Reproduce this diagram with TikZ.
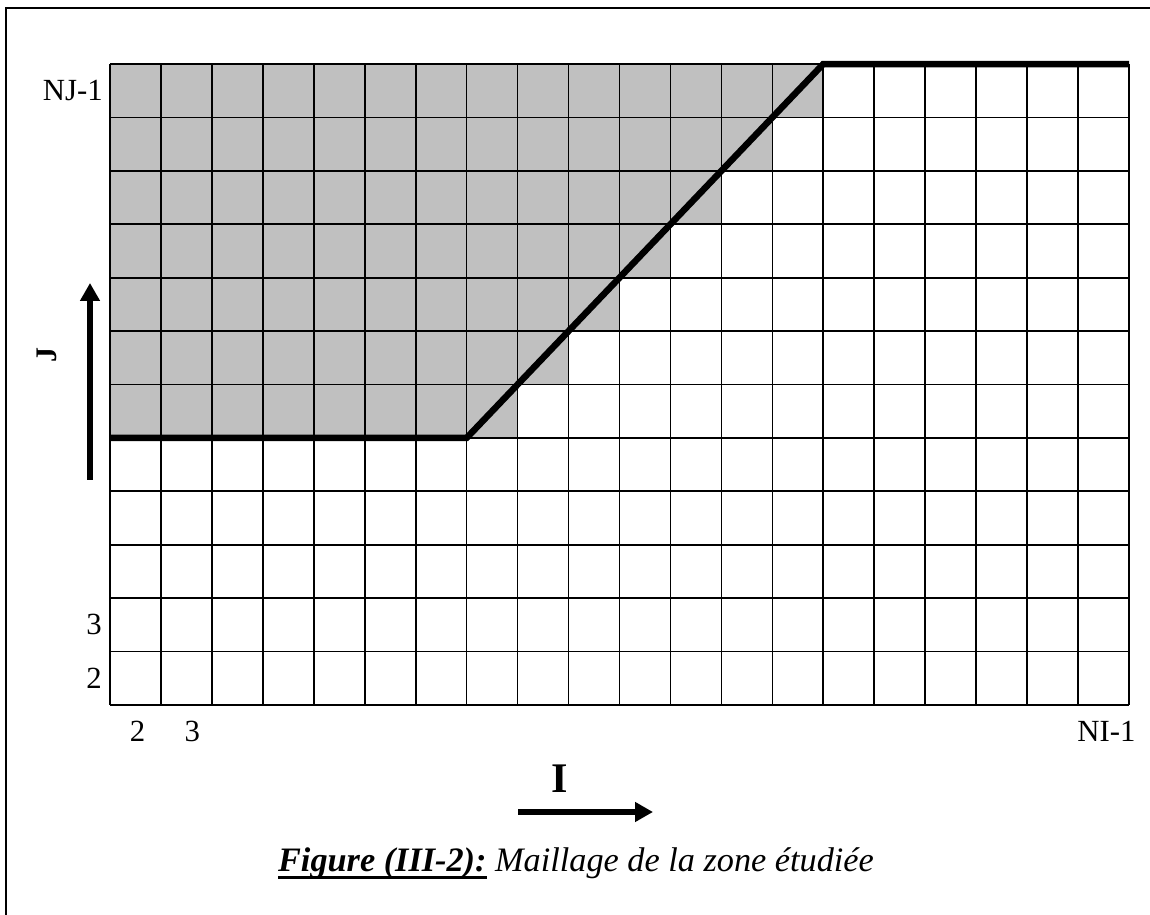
\documentclass[tikz,border=0pt]{standalone}
\usepackage{fontspec}
\setmainfont{Liberation Serif}
\usetikzlibrary{arrows.meta}
\definecolor{cellgrey}{RGB}{192,192,192}
\tikzset{
  frame line/.style={line width=1.1pt, black},
  mesh line/.style={line width=0.95pt, black},
  wall line/.style={line width=3.7pt, black, line join=miter},
  fluid zone/.style={fill=cellgrey},
  index arrow/.style={line width=3.4pt, -{Triangle[length=0.36cm, width=0.38cm]}},
  index label/.style={inner sep=0pt, font=\fontsize{17.5}{20}\selectfont},
  axis name/.style={inner sep=0pt, font=\bfseries\fontsize{#1}{#1}\selectfont},
}
\newsavebox{\capbox}
\newcommand{\capUnderline}[1]{\sbox\capbox{#1}\rlap{\rule[-4pt]{\wd\capbox}{1.7pt}}\usebox\capbox}

\begin{document}
\begin{tikzpicture}
  \useasboundingbox (0,0) rectangle (23,18.3);
  % page frame (left and top only)
  \draw[frame line] (0.12,0) -- (0.12,18.14) -- (23,18.14);

  \begin{scope}[shift={(2.2,4.2)}, x=1.019cm, y=1.0683cm]
    % shaded cells above the wall
    \fill[fluid zone] (0,5) -- (8,5) foreach \k in {6,...,11} { -- (\k+2,\k) -- (\k+3,\k) } -- (14,12) -- (0,12) -- cycle;
    % mesh
    \foreach \i in {0,...,20} \draw[mesh line] (\i,0) -- (\i,12);
    \foreach \j in {0,...,12} \draw[mesh line] (0,\j) -- (20,\j);
    \draw[wall line] (0,5) -- (7,5) -- (14,12) -- (20,12);

    \node[index label, anchor=east] (nj1) at ([xshift=-0.14cm]0,11.5) {NJ-1};
    \node[index label, anchor=east] (j3) at ([xshift=-0.16cm]0,1.5) {3};
    \node[index label, anchor=east] (j2) at ([xshift=-0.16cm]0,0.5) {2};
    \node[index label] (i2) at ([xshift=0.04cm]0.5,-0.5) {2};
    \node[index label] (i3) at ([xshift=0.12cm]1.5,-0.5) {3};
    \node[index label] (ni1) at ([xshift=0.06cm]19.5,-0.5) {NI-1};
  \end{scope}

  % direction arrows
  \coordinate (Jtail) at (1.8,8.7);
  \coordinate (Jhead) at (1.8,12.64);
  \draw[index arrow] (Jtail) -- (Jhead);
  \node[axis name=17, rotate=90] (Jname) at (0.94,11.2) {J};

  \coordinate (Itail) at (10.36,2.06);
  \coordinate (Ihead) at (13.06,2.06);
  \draw[index arrow] (Itail) -- (Ihead);
  \node[axis name=24] (Iname) at (11.2,2.72) {I};

  \node[anchor=base, inner sep=0pt, font=\itshape\fontsize{19.5}{22}\selectfont] (caption) at (11.52,0.86)
    {\capUnderline{\bfseries Figure (III-2):} Maillage de la zone étudiée};
\end{tikzpicture}
\end{document}
